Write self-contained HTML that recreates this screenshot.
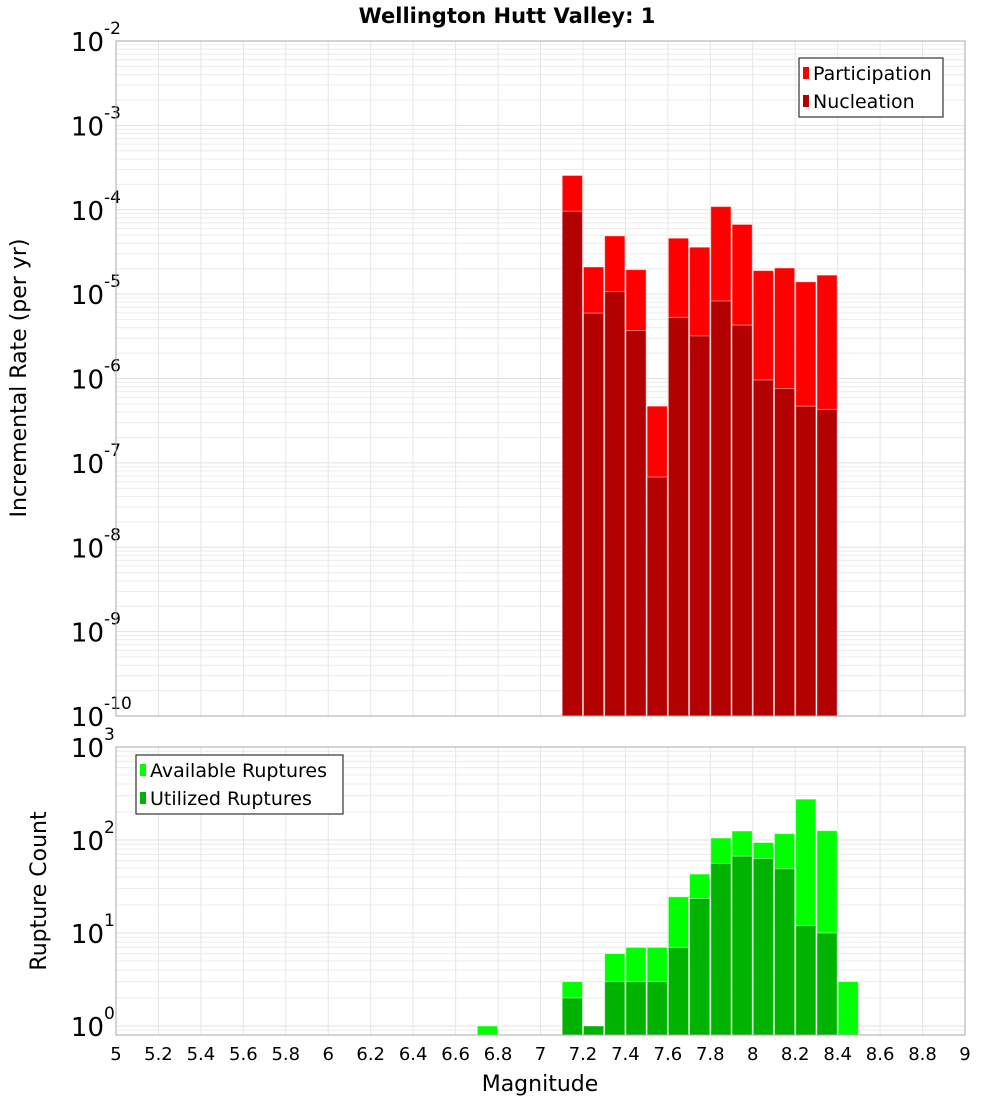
<!DOCTYPE html>
<html><head><meta charset="utf-8"><style>
body{margin:0;background:#fff;}
svg text{font-family:"DejaVu Sans","Liberation Sans",sans-serif;fill:#000;}
</style></head><body>
<svg id="chart" width="1000" height="1100" xmlns="http://www.w3.org/2000/svg">
<text x="507" y="23" text-anchor="middle" font-size="21" font-weight="bold">Wellington Hutt Valley: 1</text>
<g id="top"></g>
<g id="bot"></g>
<text transform="translate(26,378) rotate(-90)" text-anchor="middle" font-size="22">Incremental Rate (per yr)</text>
<text transform="translate(46,891) rotate(-90)" text-anchor="middle" font-size="22">Rupture Count</text>
<text x="540" y="1091" text-anchor="middle" font-size="22">Magnitude</text>
</svg>
<script>
const rateMags=[7.15,7.25,7.35,7.45,7.55,7.65,7.75,7.85,7.95,8.05,8.15,8.25,8.35];
const participation=[2.55e-4,2.1e-5,4.9e-5,1.95e-5,4.7e-7,4.6e-5,3.6e-5,1.09e-4,6.7e-5,1.9e-5,2.04e-5,1.4e-5,1.68e-5];
const nucleation=[9.6e-5,5.96e-6,1.07e-5,3.7e-6,6.8e-8,5.3e-6,3.2e-6,8.3e-6,4.3e-6,9.6e-7,7.6e-7,4.7e-7,4.3e-7];
const countMags=[6.75,7.15,7.25,7.35,7.45,7.55,7.65,7.75,7.85,7.95,8.05,8.15,8.25,8.35,8.45];
const available=[1,3,1,6,7,7,24.5,43,105,125,94,117,275,126,3];
const utilized=[0,2,1,3,3,3,7,23.5,56,67,63,49,12,10,0];
const xTicks=[5,5.2,5.4,5.6,5.8,6,6.2,6.4,6.6,6.8,7,7.2,7.4,7.6,7.8,8,8.2,8.4,8.6,8.8,9];
const rateExps=[-10,-9,-8,-7,-6,-5,-4,-3,-2];
const countExps=[0,1,2,3];

const NS="http://www.w3.org/2000/svg";
const X0=116,X1=965;
const xs=m=>X0+(m-5)/4*(X1-X0);
function mk(parent,tag,attrs){const e=document.createElementNS(NS,tag);for(const k in attrs)e.setAttribute(k,attrs[k]);parent.appendChild(e);return e;}
function logScale(lo,hi,top,bot){return v=>bot-(Math.log10(v)-Math.log10(lo))/(Math.log10(hi)-Math.log10(lo))*(bot-top);}

function panel(g,lo,hi,top,bot,exps){
  const ys=logScale(lo,hi,top,bot);
  // grid
  for(let e=Math.floor(Math.log10(lo));e<=Math.log10(hi);e++){
    for(let k=1;k<10;k++){const v=k*Math.pow(10,e);if(v<lo||v>hi)continue;
      const l=mk(g,'line',{x1:X0,x2:X1,y1:ys(v),y2:ys(v),stroke:k==1?'#e2e2e2':'#ececec','stroke-width':1});
      
      }
  }
  xTicks.forEach(t=>{const l=mk(g,'line',{x1:xs(t),x2:xs(t),y1:top,y2:bot,stroke:'#e6e6e6','stroke-width':1});
    
    });
  exps.forEach(e=>{const y=ys(Math.pow(10,e));
    const t=mk(g,'text',{x:104,y:y+10,'text-anchor':'end','font-size':26});
    
    
    t.textContent='10';
    const s=mk(g,'text',{x:104,y:y-7,'font-size':17});
    
    
    s.textContent=String(e).replace('-','-');});
  return ys;
}
function bars(g,ys,mags,vals,color,name,bot){
  mags.forEach((m,i)=>{const v=vals[i];if(!(v>0))return;
    const x=xs(m-0.05)+0.5,w=xs(m+0.05)-xs(m-0.05)-1;const y=ys(v);
    const r=mk(g,'rect',{x:x,y:y,width:w,height:bot-y,fill:color,stroke:'rgba(255,255,255,0.45)','stroke-width':1});
    
    });
}
function frame(g,top,bot){const r=mk(g,'rect',{x:X0,y:top,width:X1-X0,height:bot-top,fill:'none',stroke:'#aaa','stroke-width':1});
  
  }
function legend(g,x,y,w,items){
  const b=mk(g,'rect',{x:x,y:y,width:w,height:59,fill:'#fff',stroke:'#333','stroke-width':1.2});
  
  
  items.forEach((it,i)=>{const yy=y+15+i*28;
    const s=mk(g,'rect',{x:x+4,y:yy-6,width:6,height:12,fill:it[1]});
    
    
    const t=mk(g,'text',{x:x+14,y:yy+7,'font-size':19});
    
    
    t.textContent=it[0];});
}
const gt=document.getElementById('top'),gb=document.getElementById('bot');
const T0=41,T1=716,B0=747,B1=1035;
const yt=panel(gt,1e-10,1e-2,T0,T1,rateExps);
bars(gt,yt,rateMags,participation,'#ff0000','participation-bar',T1);
bars(gt,yt,rateMags,nucleation,'#b30000','nucleation-bar',T1);
frame(gt,T0,T1);
legend(gt,799,58,144,[['Participation','#ff0000'],['Nucleation','#b30000']]);
const yb=panel(gb,0.8,1000,B0,B1,countExps);
bars(gb,yb,countMags,available,'#00ff00','available-bar',B1);
bars(gb,yb,countMags,utilized,'#00b300','utilized-bar',B1);
frame(gb,B0,B1);
legend(gb,136,755,207,[['Available Ruptures','#00ff00'],['Utilized Ruptures','#00b300']]);
xTicks.forEach(t=>{const l=mk(gb,'text',{x:xs(t),y:1060,'text-anchor':'middle','font-size':18});
  
  
  l.textContent=String(t);});
</script>
</body></html>
